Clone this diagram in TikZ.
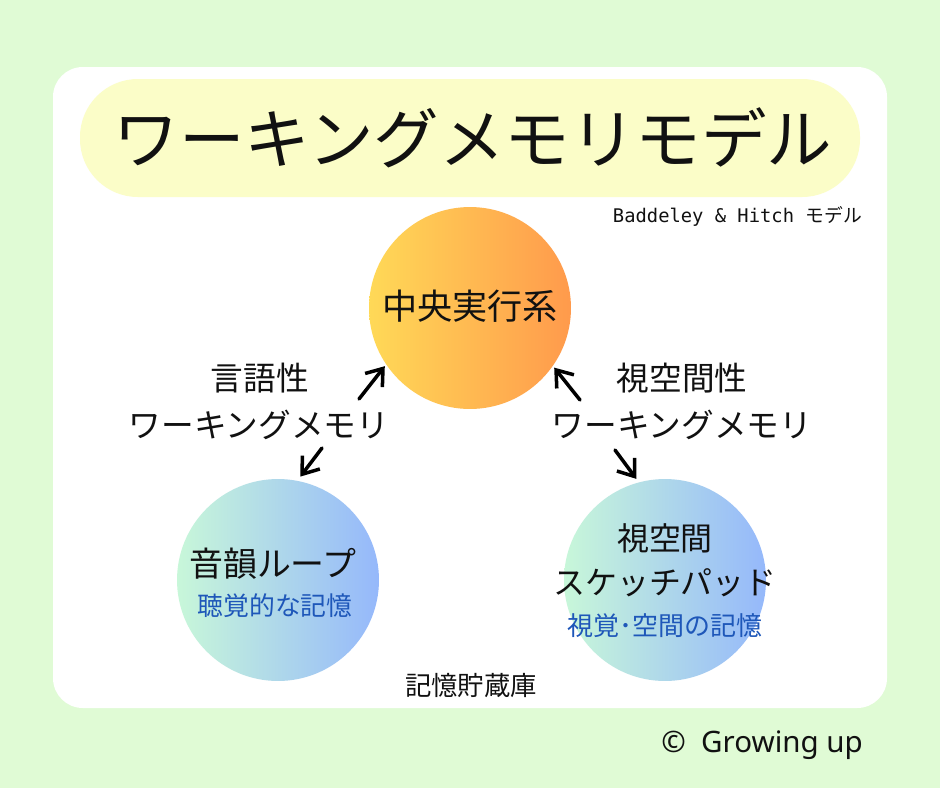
\documentclass[tikz,border=0pt]{standalone}
\usepackage{fontspec}
\setmainfont{Noto Sans CJK JP}
\setmonofont{DejaVu Sans Mono}
\newfontfamily\latinfont{Noto Sans}
\usetikzlibrary{arrows.meta}
\definecolor{leaf}{HTML}{E0FBD5}
\definecolor{cream}{HTML}{FBFDC8}
\definecolor{ink}{HTML}{111111}
\definecolor{memblue}{HTML}{1E57B9}
\definecolor{sun}{HTML}{FFD957}
\definecolor{tangerine}{HTML}{FF9A4C}
\definecolor{mint}{HTML}{C8F7D9}
\definecolor{sky}{HTML}{95B8FB}
\tikzset{
  unit/.style={circle,draw=none,inner sep=0pt,minimum size=4.04cm},
  warm/.style={unit,left color=sun,right color=tangerine},
  cool/.style={unit,left color=mint,right color=sky},
  arr/.style={line width=2pt,line cap=round,-{Straight Barb[length=8.5pt,width=12.5pt,line width=2pt]}}
}
\begin{document}
\begin{tikzpicture}[x=0.02cm,y=-0.02cm,every node/.style={text=ink}]
\useasboundingbox (0,0) rectangle (940,788);
\fill[leaf] (0,0) rectangle (940,788);
\fill[white,rounded corners=17pt] (53,67) rectangle (887,708);
% title block
\fill[cream,rounded corners=33pt] (80,79) rectangle (860,197);
\node (title) at (473,138) {\fontsize{37.3}{40}\selectfont ワーキングメモリモデル};
\node[anchor=east] (model) at (868,216) {\fontsize{10.7}{12}\selectfont\texttt{Baddeley \& Hitch }モデル};
% the three parts
\node[warm] (central) at (470,308) {};
\node[cool] (phon) at (278,580) {};
\node[cool] (visuo) at (665,580) {};
\node (centraltxt) at (470,306) {\fontsize{20}{24}\selectfont 中央実行系};
\node (phontxt) at (273,564) {\fontsize{19.3}{22}\selectfont 音韻ループ};
\node[text=memblue] (phonsub) at (275,606) {\fontsize{14.7}{17}\selectfont 聴覚的な記憶};
\node (visuotxt) at (665,538) {\fontsize{18.2}{21}\selectfont 視空間};
\node (visuotxt2) at (665,583) {\fontsize{18.2}{21}\selectfont スケッチパッド};
\node[text=memblue] (visuosub) at (665,626) {\fontsize{14.8}{17}\selectfont 視覚･空間の記憶};
% labels beside the arrows
\node (verbal) at (260,378) {\fontsize{18.6}{21}\selectfont 言語性};
\node (verbalwm) at (259,425) {\fontsize{18.6}{21}\selectfont ワーキングメモリ};
\node (spatial) at (682,378) {\fontsize{18.6}{21}\selectfont 視空間性};
\node (spatialwm) at (682,425) {\fontsize{18.6}{21}\selectfont ワーキングメモリ};
% arrows
\coordinate (lu) at (359,399);
\coordinate (ll) at (322,448);
\coordinate (ru) at (580,400);
\coordinate (rl) at (615,450);
\draw[arr,shorten >=1.1pt] (lu) -- (central.214);
\draw[arr,shorten >=2.8pt] (ll) -- (phon.79);
\draw[arr,shorten >=1.1pt] (ru) -- (central.325);
\draw[arr,shorten >=2.3pt] (rl) -- (visuo.105);
% footer
\node (store) at (471,686) {\fontsize{15}{18}\selectfont 記憶貯蔵庫};
\node[anchor=east] (credit) at (869,745) {\fontsize{16.8}{19}\selectfont\latinfont ©\ \ Growing up};
\end{tikzpicture}
\end{document}
